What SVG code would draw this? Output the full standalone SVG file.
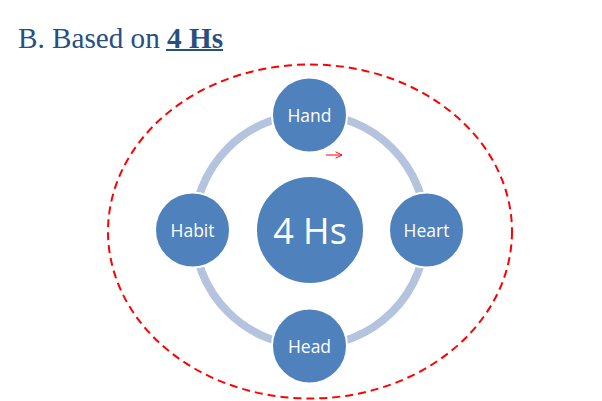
<svg xmlns="http://www.w3.org/2000/svg" width="602" height="401" viewBox="0 0 602 401">
<defs>
<style>
.node{fill:#4F81BD;stroke:#FFFFFF;stroke-width:2}
.lbl{fill:#FFFFFF;font-family:"Open Sans","Liberation Sans",sans-serif;font-size:17.5px;text-anchor:middle;dominant-baseline:central}
</style>
<marker id="ah" viewBox="0 0 10 10" refX="9" refY="5" markerWidth="8" markerHeight="8" orient="auto" markerUnits="userSpaceOnUse">
<path d="M1,1 L9,5 L1,9" fill="none" stroke="#FF0000" stroke-width="1.2"/>
</marker>
</defs>
<rect width="602" height="401" fill="#FFFFFF"/>
<text x="18" y="48" font-family="'Liberation Serif',serif" font-size="30" fill="#27507E" textLength="205" lengthAdjust="spacingAndGlyphs">B. Based on <tspan font-weight="bold">4 Hs</tspan></text>
<rect x="166" y="49" width="57" height="2" fill="#27507E"/>
<ellipse cx="310" cy="231.5" rx="202" ry="167" fill="none" stroke="#FF0000" stroke-width="2" stroke-dasharray="8,5"/>
<g id="connectors">
<circle cx="310" cy="230" r="116" fill="none" stroke="#B4C4DF" stroke-width="8"/>
<line x1="326" y1="155" x2="342" y2="155" stroke="#FF0000" stroke-width="1" marker-end="url(#ah)"/>
</g>
<g id="center"><circle class="node" cx="310" cy="230" r="54"/><text class="lbl" x="310" y="230" style="font-size:36px">4 Hs</text></g>
<g id="hand"><circle class="node" cx="309.5" cy="115" r="37.5"/><text class="lbl" x="309.5" y="115">Hand</text></g>
<g id="heart"><circle class="node" cx="426.5" cy="230" r="37.5"/><text class="lbl" x="426.5" y="230">Heart</text></g>
<g id="head"><circle class="node" cx="309.5" cy="346" r="37.5"/><text class="lbl" x="309.5" y="346">Head</text></g>
<g id="habit"><circle class="node" cx="192.5" cy="230" r="37.5"/><text class="lbl" x="192.5" y="230">Habit</text></g>
</svg>
